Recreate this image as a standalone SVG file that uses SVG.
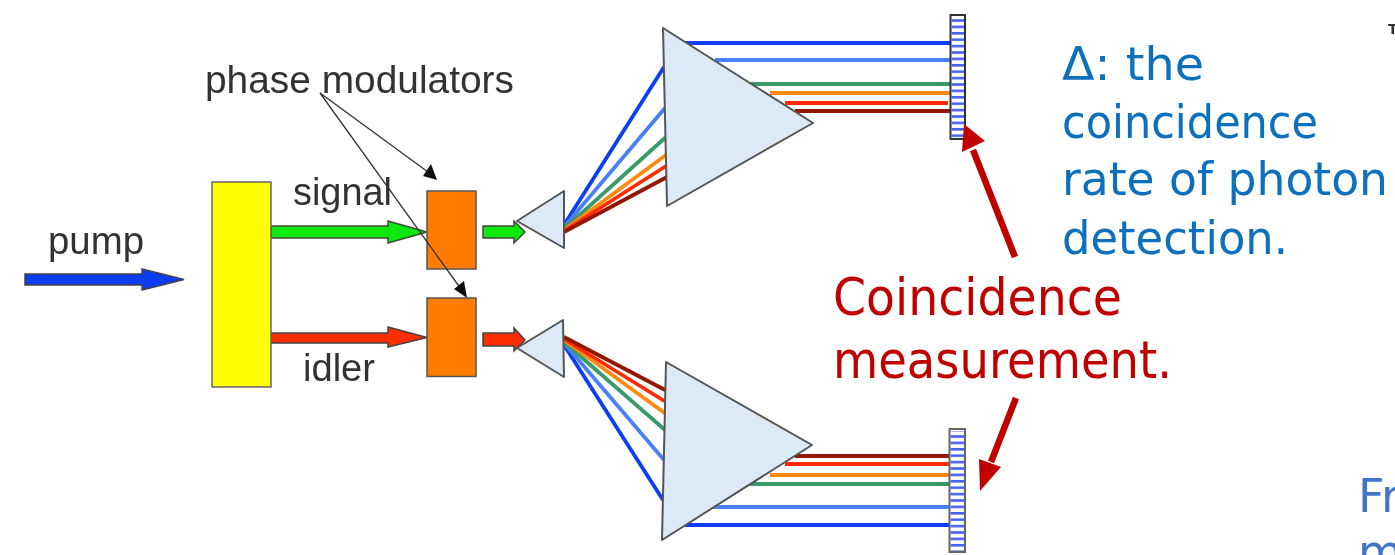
<svg xmlns="http://www.w3.org/2000/svg" width="1395" height="555" viewBox="0 0 1395 555">
<defs>
<style>
.lab{font-family:"Liberation Sans",Arial,sans-serif;font-size:38px;fill:#333}
.hand{font-family:"DejaVu Sans",Verdana,sans-serif;font-size:46px}
.b{fill:#0a70bd}.r{fill:#c00000}
.prism{fill:#dce9f6;stroke:#555;stroke-width:2;stroke-linejoin:round}
.mod{fill:#ff7c00;stroke:#555;stroke-width:1.5}
.arr{stroke:#444;stroke-width:1.5;stroke-linejoin:miter}
.ray{fill:none;stroke-width:3.8}
.c1{stroke:#0d3cf5}.c2{stroke:#4a80f5}.c3{stroke:#3a9a6a}.c4{stroke:#ff8a10}.c5{stroke:#ff2a00}.c6{stroke:#951500}
.thin{stroke:#333;stroke-width:1.3;fill:none}
.red{stroke:#c00000;stroke-width:6.500;fill:none}
.det{fill:#fff;stroke:#333;stroke-width:2}
</style>
<filter id="soft" x="0" y="0" width="1395" height="555" filterUnits="userSpaceOnUse"><feGaussianBlur stdDeviation="0.7"/></filter>
<pattern id="stripes" width="16" height="6.4" patternUnits="userSpaceOnUse"><rect width="16" height="2.6" fill="#4a64f0"/></pattern>
</defs>
<g filter="url(#soft)">
<g id="connectors">
<g id="rays-upper">
<path class="ray c1" d="M564 225L664 67M685 43H950"/>
<path class="ray c2" d="M564 227L665 108M715 60H950"/>
<path class="ray c3" d="M564 229L666 137M750 84H950"/>
<path class="ray c4" d="M564 230L666 155M770 93H950"/>
<path class="ray c5" d="M564 231L666 166M785 103H948"/>
<path class="ray c6" d="M564 232L667 177M795 111H950"/>
</g>
<g id="rays-lower">
<path class="ray c1" d="M564 345L663 500M685 525H950"/>
<path class="ray c2" d="M564 343L664 460M710 507H950"/>
<path class="ray c3" d="M564 342L665 430M750 484H950"/>
<path class="ray c4" d="M564 340L666 414M770 475H950"/>
<path class="ray c5" d="M564 339L666 402M785 464H950"/>
<path class="ray c6" d="M564 337L667 391M795 456H950"/>
</g>
<polygon class="arr" fill="#0c3cf0" points="25,274 142,274 142,269 184,279.500 142,290 142,285 25,285"/>
<polygon class="arr" fill="#0be80b" points="271,226 388,226 388,221 427,232 388,243 388,238 271,238"/>
<polygon class="arr" fill="#ff2d00" points="271,333 388,333 388,327 427,337.500 388,347 388,343 271,343"/>
<polygon class="arr" fill="#0be80b" points="483,226 514,226 514,221 525,232 514,243 514,238 483,238"/>
<polygon class="arr" fill="#ff2d00" points="483,333 514,333 514,328 525,340 514,351 514,346 483,346"/>
</g>
<g id="yellow-crystal"><rect x="212" y="182" width="59" height="205" fill="#ffff00" stroke="#666" stroke-width="1.5"/></g>
<g id="modulator-signal"><rect class="mod" x="427" y="191" width="49" height="78"/></g>
<g id="modulator-idler"><rect class="mod" x="427" y="298" width="49" height="78.500"/></g>
<g id="prism-small-upper"><polygon class="prism" points="517,221 564,191 564,248"/></g>
<g id="prism-big-upper"><polygon class="prism" points="663,28 813,123 667,206"/></g>
<g id="prism-small-lower"><polygon class="prism" points="517,348 563,320 564,377"/></g>
<g id="prism-big-lower"><polygon class="prism" points="666,362 812,445 662,540"/></g>
<g id="detector-upper">
<rect class="det" x="950.500" y="15" width="14.500" height="124"/>
<rect x="951.500" y="18" width="12.500" height="120" fill="url(#stripes)"/>
</g>
<g id="detector-lower">
<rect class="det" x="949.500" y="429" width="15.500" height="123" style="stroke:#666"/>
<rect x="950.500" y="431" width="13.500" height="120" fill="url(#stripes)"/>
</g>
<g id="pointers">
<path class="thin" d="M320 93L428 172M320 93L461 289"/>
<polygon fill="#111" points="437,180 423,176 431,164"/>
<polygon fill="#111" points="467,298 454,289 464,281"/>
<path class="red" d="M1015 257L973 150"/>
<polygon fill="#c00000" points="964,124 985,141 962,152"/>
<path class="red" d="M1016 398L991 462"/>
<polygon fill="#c00000" points="980,491 979,459 1001,467"/>
</g>
<g id="labels">
<text class="lab" x="205" y="93" textLength="309" lengthAdjust="spacingAndGlyphs">phase modulators</text>
<text class="lab" x="293" y="205" textLength="99" lengthAdjust="spacingAndGlyphs">signal</text>
<text class="lab" x="303" y="381" textLength="72" lengthAdjust="spacingAndGlyphs">idler</text>
<text class="lab" x="48" y="254" textLength="96" lengthAdjust="spacingAndGlyphs">pump</text>
<text class="hand b" x="1062" y="80" textLength="142" lengthAdjust="spacingAndGlyphs">Δ: the</text>
<text class="hand b" x="1062" y="138" textLength="256" lengthAdjust="spacingAndGlyphs">coincidence</text>
<text class="hand b" x="1062" y="195" textLength="326" lengthAdjust="spacingAndGlyphs">rate of photon</text>
<text class="hand b" x="1062" y="254" textLength="226" lengthAdjust="spacingAndGlyphs">detection.</text>
<text class="hand r" x="833" y="315" style="font-size:52px" textLength="289" lengthAdjust="spacingAndGlyphs">Coincidence</text>
<text class="hand r" x="833" y="378" style="font-size:52px" textLength="339" lengthAdjust="spacingAndGlyphs">measurement.</text>
<text class="hand" x="1358" y="512" fill="#3f74c8">Fr</text>
<text class="hand" x="1358" y="568" fill="#3f74c8">m</text>
<text class="hand" x="1388" y="34" fill="#333" font-weight="bold" style="font-size:14px">T</text>
</g>
</g>
</svg>
